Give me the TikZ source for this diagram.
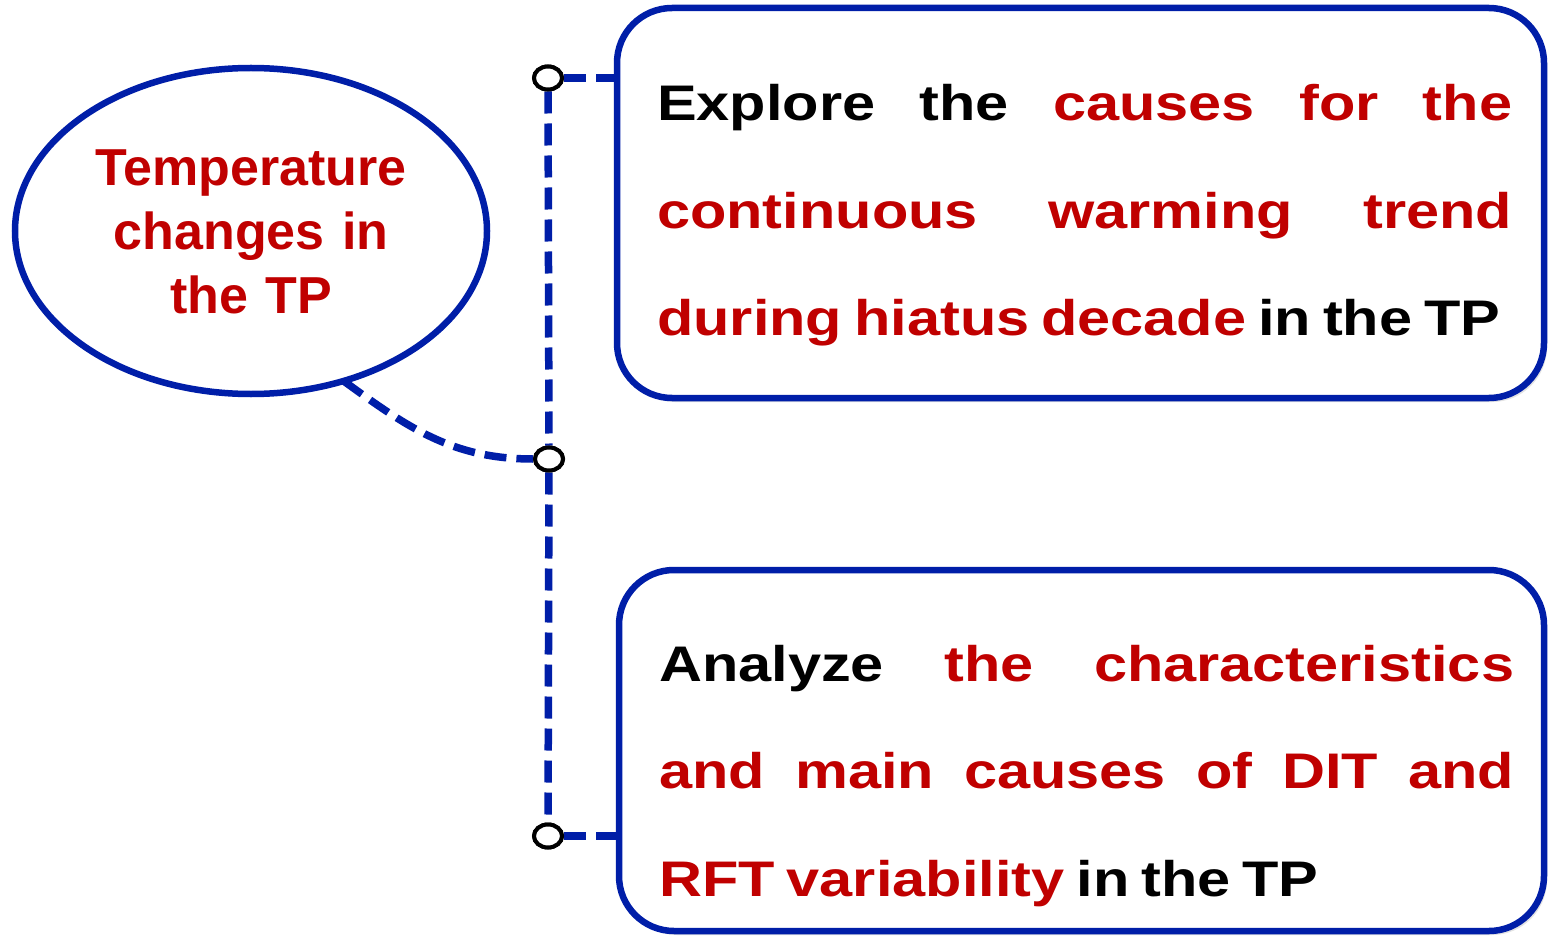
\documentclass[tikz,border=0pt]{standalone}
\usepackage{fontspec}
\setmainfont{Liberation Sans}
\newfontfamily\boxfont[FakeStretch=1.19, WordSpace=0.72]{Liberation Sans}
\usetikzlibrary{shapes.geometric,shadows}
\definecolor{myblue}{RGB}{0,30,168}
\definecolor{myred}{RGB}{192,0,0}
\begin{document}
\begin{tikzpicture}[x=1pt,y=-1pt,
  box/.style={draw=myblue, line width=6.5pt, rounded corners=55pt, fill=white, inner sep=0pt,
    drop shadow={shadow xshift=3pt, shadow yshift=-4pt, opacity=0.22}},
  boxtext/.style={anchor=base west, inner sep=0pt, text width=855pt, align=justify,
    font=\boxfont\bfseries\fontsize{50}{107.5}\selectfont},
  oval/.style={ellipse, draw=myblue, line width=6.5pt, inner sep=0pt},
  ovaltext/.style={anchor=base, inner sep=0pt, text width=420pt, align=center, text=myred,
    font=\bfseries\fontsize{52}{64}\selectfont},
  dot/.style={ellipse, draw=black, fill=white, line width=4pt, minimum width=28pt, minimum height=23pt, inner sep=0pt},
  conn/.style={draw=myblue, line width=7.5pt, dash pattern=on 22pt off 10pt}]
\useasboundingbox (0,0) rectangle (1550,936);
\fill[white] (0,0) rectangle (1550,936);

% boxes
\node[box, minimum width=927pt, minimum height=390pt] (box1) at (1080.5,203) {};
\node[box, minimum width=925pt, minimum height=361pt] (box2) at (1081.5,750.5) {};

\node[boxtext] (t1) at (657,121) {\tolerance=10000\hbadness=10000
Explore the \textcolor{myred}{causes for the}\linebreak
\textcolor{myred}{continuous warming trend}\linebreak
\textcolor{myred}{during hiatus decade} in the TP};

\node[boxtext] (t2) at (659,681) {\tolerance=10000\hbadness=10000
Analyze \textcolor{myred}{the characteristics}\linebreak
\textcolor{myred}{and main causes of DIT and}\linebreak
\textcolor{myred}{RFT variability} in the TP};

% ellipse
\node[oval, minimum width=472pt, minimum height=326pt] (ell) at (251,231) {};
\node[ovaltext] (elltext) at (251,186) {Temperature\\changes in\\the TP};

% junction dots
\node[dot] (c1) at (548,78) {};
\node[dot] (c2) at (549,459) {};
\node[dot] (c3) at (548,836) {};

% connectors
\draw[conn] (c1) -- (c2);
\draw[conn] (c2) -- (c3);
\draw[conn] (c1) -- (c1 -| box1.west);
\draw[conn] (c3) -- (c3 -| box2.west);
\draw[conn] ([xshift=4pt,yshift=4pt]ell.-60) to[out=-36, in=180] (c2);

% redraw dots on top
\node[dot] at (c1) {};
\node[dot] at (c2) {};
\node[dot] at (c3) {};
\end{tikzpicture}
\end{document}
